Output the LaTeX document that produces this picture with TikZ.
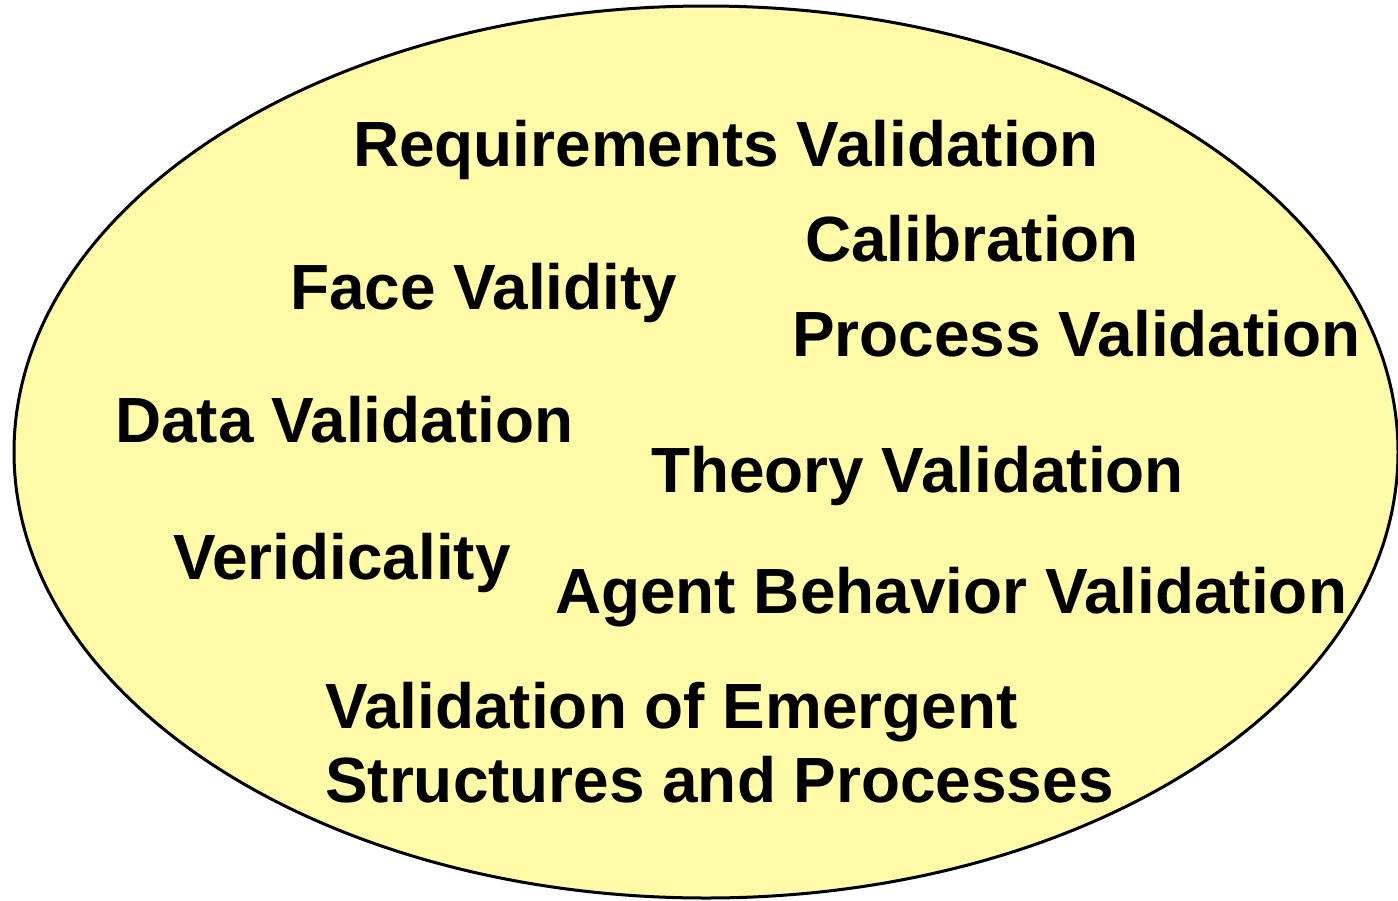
\documentclass[tikz,border=0pt]{standalone}
\usepackage{fontspec}
\setmainfont{Liberation Sans}
\definecolor{paleyellow}{RGB}{255,251,169}
\begin{document}
\begin{tikzpicture}[x=1pt,y=-1pt,
  item/.style={anchor=base west,inner sep=0pt,font=\bfseries\fontsize{63.9}{74}\selectfont}]
\useasboundingbox (0,0) rectangle (1398,900);
% the enclosing oval
\draw[line width=3pt,fill=paleyellow] (706,452) ellipse [x radius=692,y radius=446];
% the kinds of validation
\node[item] (req)  at (353,166) {Requirements Validation};
\node[item] (cal)  at (805,261) {Calibration};
\node[item] (face) at (290,309) {Face Validity};
\node[item] (proc) at (792,356) {Process Validation};
\node[item] (data) at (115,442) {Data Validation};
\node[item] (theo) at (651,492) {Theory Validation};
\node[item] (veri) at (173,579) {Veridicality};
\node[item] (agent) at (555,613) {Agent Behavior Validation};
\node[item] (emer1) at (325,728) {Validation of Emergent};
\node[item] (emer2) at (325,802) {Structures and Processes};
\end{tikzpicture}
\end{document}
